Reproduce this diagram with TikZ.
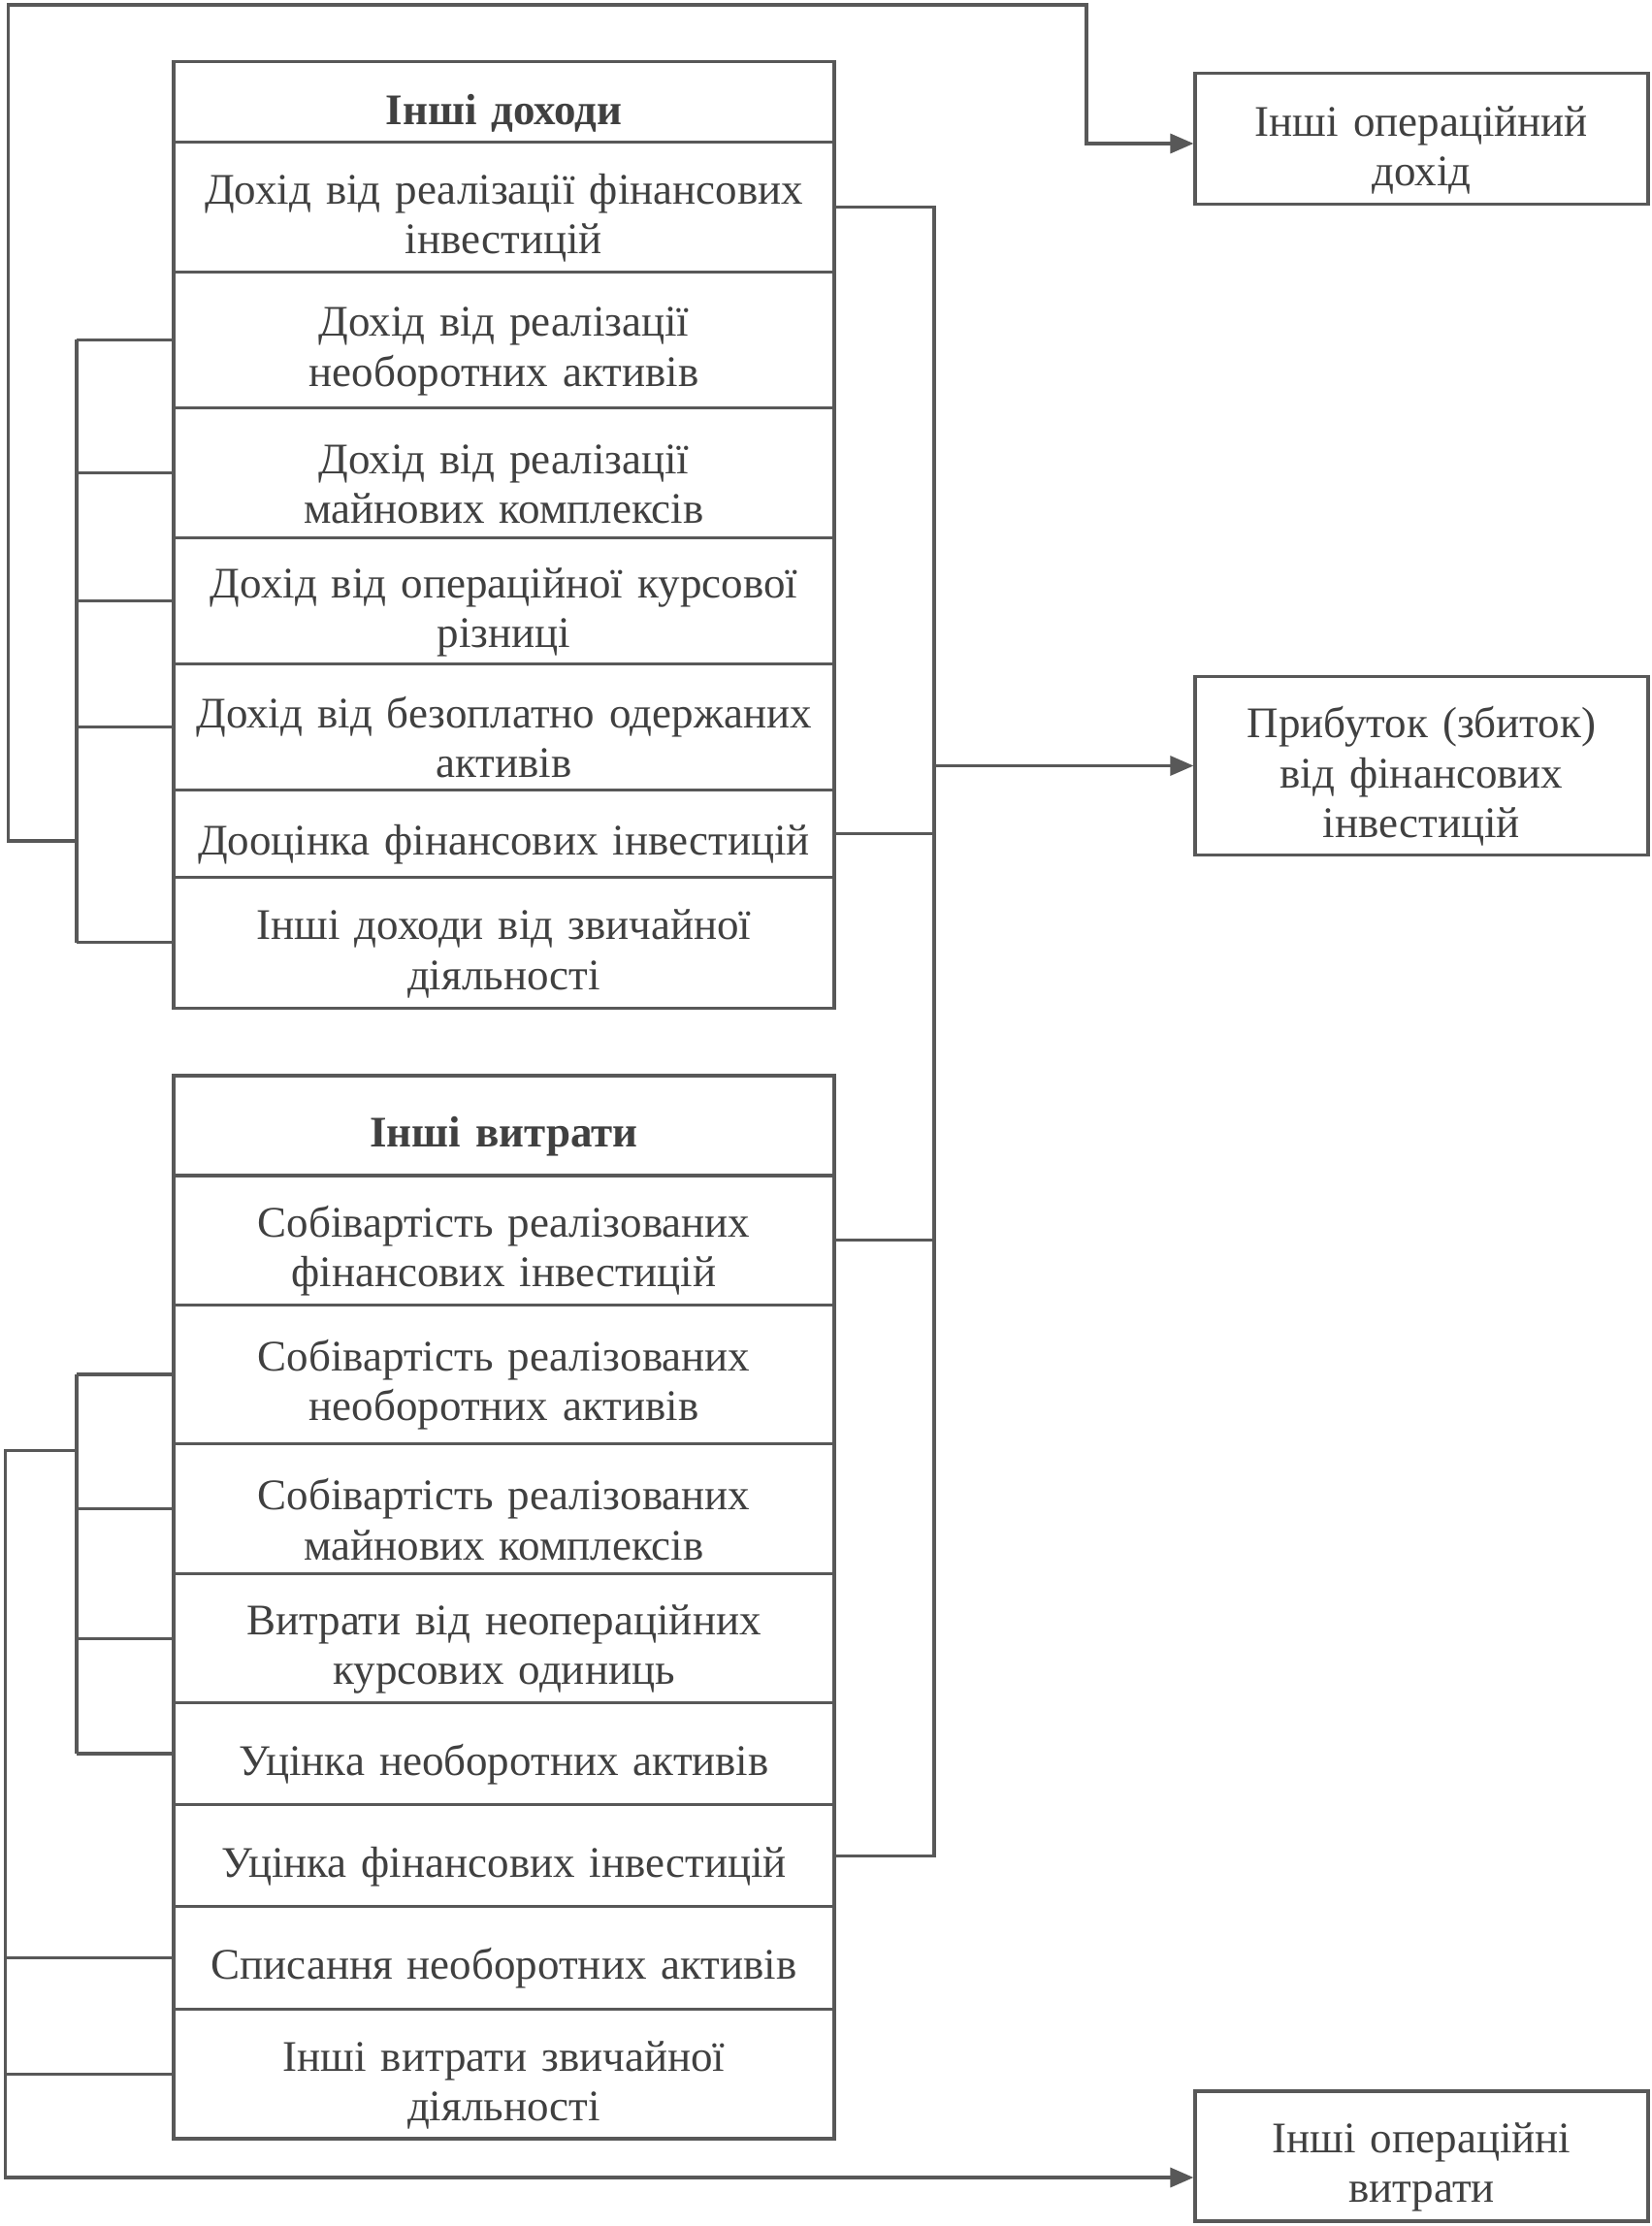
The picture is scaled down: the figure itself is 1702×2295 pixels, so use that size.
\documentclass[tikz,border=0pt]{standalone}
\usepackage{fontspec}
\setmainfont{Liberation Serif}
\usetikzlibrary{arrows.meta}
\definecolor{ln}{HTML}{585858}
\definecolor{tx}{HTML}{404040}
\begin{document}
\begin{tikzpicture}[x=0.5pt,y=-0.5pt,
  row/.style={draw=ln,line width=1.6pt,rectangle,minimum width=340.5pt,inner sep=2pt,
    text width=330pt,align=center,text=tx,font=\fontsize{22.5}{25.6}\selectfont,
    execute at begin node={\rule{0pt}{27pt}}},
  side/.style={draw=ln,line width=1.6pt,rectangle,minimum width=233.5pt,inner sep=2pt,
    text width=225pt,align=center,text=tx,font=\fontsize{22.5}{25.6}\selectfont,
    execute at begin node={\rule{0pt}{27pt}}},
  conn/.style={draw=ln,line width=1.6pt},
  arr/.style={conn,-{Triangle[length=12pt,width=10pt]}}]
\fill[white] (0,0) rectangle (1702,2295);
\useasboundingbox (0,0) rectangle (1702,2295);
% top column
\node[row,minimum height=41.45pt] (h1) at (519.5,105.25) {\textbf{Інші доходи}};
\node[row,minimum height=66.75pt] (r1) at (519.5,213.45) {Дохід від реалізації фінансових\\інвестицій};
\node[row,minimum height=70pt] (r2) at (519.5,350.2) {Дохід від реалізації\\необоротних активів};
\node[row,minimum height=67.15pt] (r3) at (519.5,487.35) {Дохід від реалізації\\майнових комплексів};
\node[row,minimum height=64.9pt] (r4) at (519.5,619.4) {Дохід від операційної курсової\\різниці};
\node[row,minimum height=64.9pt] (r5) at (519.5,749.2) {Дохід від безоплатно одержаних\\активів};
\node[row,minimum height=45.1pt] (r6) at (519.5,859.2) {Дооцінка фінансових інвестицій};
\node[row,minimum height=67.45pt] (r7) at (519.5,971.75) {Інші доходи від звичайної\\діяльності};
% bottom column
\node[row,minimum height=51.5pt] (h2) at (519.5,1160.5) {\textbf{Інші витрати}};
\node[row,minimum height=66.7pt] (s1) at (519.5,1278.7) {Собівартість реалізованих\\фінансових інвестицій};
\node[row,minimum height=71.65pt] (s2) at (519.5,1417) {Собівартість реалізованих\\необоротних активів};
\node[row,minimum height=67.05pt] (s3) at (519.5,1555.75) {Собівартість реалізованих\\майнових комплексів};
\node[row,minimum height=66.3pt] (s4) at (519.5,1689.1) {Витрати від неопераційних\\курсових одиниць};
\node[row,minimum height=52.6pt] (s5) at (519.5,1808) {Уцінка необоротних активів};
\node[row,minimum height=52.55pt] (s6) at (519.5,1913.15) {Уцінка фінансових інвестицій};
\node[row,minimum height=53pt] (s7) at (519.5,2018.7) {Списання необоротних активів};
\node[row,minimum height=66.65pt] (s8) at (519.5,2138.35) {Інші витрати звичайної\\діяльності};
% right boxes
\node[side,minimum height=67.5pt] (b1) at (1465.5,143) {Інші операційний\\дохід};
\node[side,minimum height=92pt] (b2) at (1465.5,789.5) {Прибуток (збиток)\\від фінансових\\інвестицій};
\node[side,minimum height=67pt] (b3) at (1465.5,2223) {Інші операційні\\витрати};
% helper coordinates
\coordinate (rbx) at (963,0);
\coordinate (lx) at (79,0);
\coordinate (ox) at (8.7,0);
\coordinate (topy) at (0,5);
\coordinate (tc) at (1120,5);
\coordinate (ay) at (0,148);
\coordinate (j1) at (79,866.9);
\coordinate (j2) at (79,1495.5);
\coordinate (ox2) at (5.4,0);
\coordinate (by) at (0,2245);
% right bracket
\draw[conn] (r1.east) -- (r1.east -| rbx) -- (s6.east -| rbx) -- (s6.east);
\draw[conn] (r6.east) -- (r6.east -| rbx);
\draw[conn] (s1.east) -- (s1.east -| rbx);
\draw[arr] (b2.west -| rbx) -- (b2.west);
% top-left bracket
\draw[conn] (r2.west -| lx) -- (r7.west -| lx);
\foreach \n in {r2,r3,r4,r5,r7} \draw[conn] (\n.west) -- (\n.west -| lx);
\draw[arr] (j1) -- (j1 -| ox) -- (ox |- topy) -- (tc) -- (tc |- ay) -- (b1.west |- ay);
% bottom-left bracket
\draw[conn] (s2.west -| lx) -- (s5.west -| lx);
\foreach \n in {s2,s3,s4,s5} \draw[conn] (\n.west) -- (\n.west -| lx);
\foreach \n in {s7,s8} \draw[conn] (\n.west) -- (\n.west -| ox2);
\draw[arr] (j2) -- (j2 -| ox2) -- (ox2 |- by) -- (b3.west |- by);
\end{tikzpicture}
\end{document}
